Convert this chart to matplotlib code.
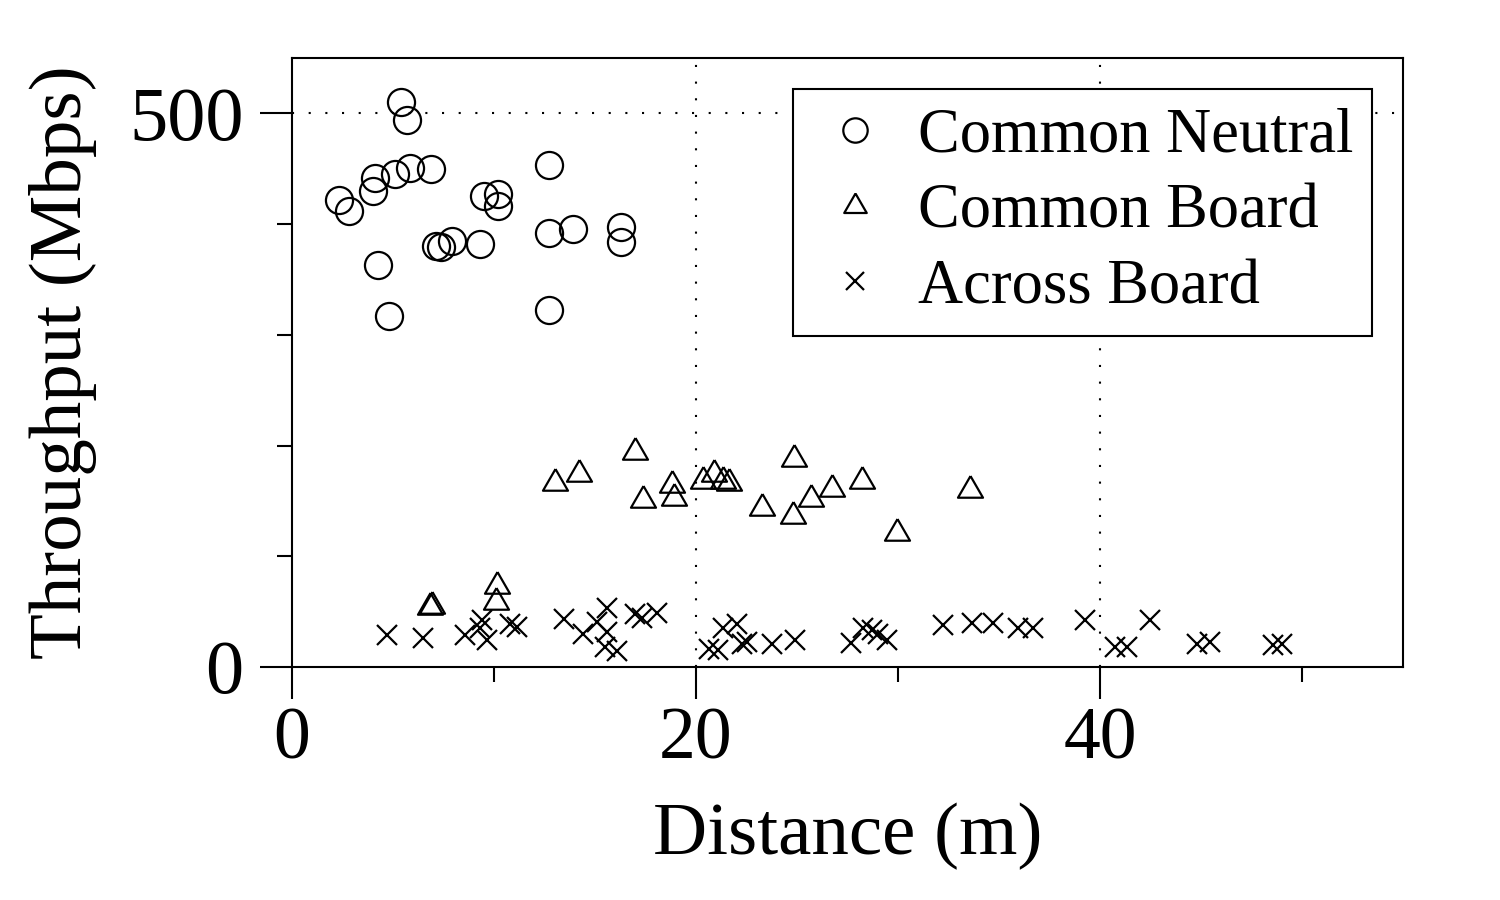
import matplotlib
matplotlib.use("Agg")
import matplotlib.pyplot as plt

plt.rcParams['font.family'] = ['Liberation Serif', 'DejaVu Serif']

# Common Neutral (circles)
cn_x = [5.38, 5.71, 5.84, 6.88, 5.08, 4.12, 4.00, 2.31, 2.81, 12.71, 10.21, 9.52,
        10.21, 12.72, 13.90, 16.29, 16.29, 7.90, 7.38, 7.13, 9.32, 4.27, 4.79, 12.72]
cn_y = [510, 494, 451, 450, 445, 442, 430, 422, 412, 453, 427, 425,
        416, 392, 396, 397, 384, 385, 379, 380, 382, 363, 317, 322]

# Common Board (triangles)
cb_x = [6.83, 6.95, 10.08, 10.13, 13.0, 14.21, 16.98, 17.38, 18.81, 18.9, 20.36,
        20.89, 21.35, 21.63, 23.28, 24.82, 24.85, 25.69, 26.72, 28.23, 29.93, 33.56]
cb_y = [54, 55, 59, 73, 166, 174, 194, 151, 164, 153, 168,
        174, 168, 166, 144, 136, 188, 152, 161, 168, 121, 160]

# Across Board (crosses)
ab_x = [4.69, 6.50, 8.56, 9.39, 9.31, 9.64, 10.79, 11.12, 13.47, 14.42, 15.58,
        15.08, 15.58, 15.50, 16.07, 16.98, 17.31, 18.05, 20.64, 21.11, 21.35, 22.01,
        22.26, 22.50, 23.75, 24.90, 27.67, 28.25, 28.70, 29.03, 29.44, 32.21, 33.65,
        34.72, 35.96, 36.70, 39.26, 40.74, 41.32, 42.48, 44.79, 45.45, 48.58, 48.99]
ab_y = [29, 26, 29, 42, 35, 24, 39, 36, 43, 30, 53,
        41, 32, 18, 14, 48, 44, 49, 16, 15, 35, 39,
        21, 23, 21, 24, 22, 35, 33, 30, 24, 38, 40,
        40, 35, 35, 42, 18, 18, 42, 21, 23, 20, 21]

labels = ["Common Neutral", "Common Board", "Across Board"]
x_major = [0, 20, 40]
x_minor = [10, 30, 50]
y_major = [0, 500]
y_minor = [100, 200, 300, 400]

fig = plt.figure(figsize=(15, 9), dpi=100)
ax = fig.add_axes([292/1500, 1-667/900, (1403-292)/1500, (667-58)/900])

tri = [(0, 1), (-0.866, -0.5), (0.866, -0.5), (0, 1)]

dot = (0, (1, 7))
ax.axhline(500, color='black', lw=1.5, linestyle=dot, zorder=1)
for gx in [20, 40]:
    ax.axvline(gx, color='black', lw=1.5, linestyle=dot, zorder=1)

ax.plot(cn_x, cn_y, linestyle='none', marker='o', markersize=19.5,
        mfc='none', mec='black', mew=1.6, label=labels[0], zorder=3)
ax.plot(cb_x, cb_y, linestyle='none', marker=tri, markersize=20.8,
        mfc='none', mec='black', mew=1.6, label=labels[1], zorder=3)
ax.plot(ab_x, ab_y, linestyle='none', marker='x', markersize=15,
        mec='black', mew=1.6, label=labels[2], zorder=3)

ax.set_xlim(0, 55)
ax.set_ylim(0, 550)
ax.set_xticks(x_major)
ax.set_xticks(x_minor, minor=True)
ax.set_yticks(y_major)
ax.set_yticks(y_minor, minor=True)
ax.set_xticklabels([str(v) for v in x_major])
ax.set_yticklabels([str(v) for v in y_major])

ax.tick_params(axis='x', which='major', direction='out', length=23, width=1.5,
               labelsize=53, pad=6, color='black')
ax.tick_params(axis='y', which='major', direction='out', length=23, width=1.5,
               labelsize=55, pad=12, color='black')
ax.tick_params(which='minor', direction='out', length=11, width=1.5, color='black')
for s in ax.spines.values():
    s.set_linewidth(1.5)
    s.set_color('black')

ax.set_xlabel("Distance (m)", fontsize=54, labelpad=20)
ax.set_ylabel("Throughput (Mbps)", fontsize=54, labelpad=23)

leg = ax.legend(loc='upper right', fontsize=45, frameon=True, fancybox=False,
                edgecolor='black', framealpha=1, markerscale=0.9,
                borderaxespad=0.5, handletextpad=0.3, labelspacing=0.28,
                borderpad=0.3, handlelength=1.4)
leg.get_frame().set_linewidth(1.5)

fig.savefig("out.png", dpi=100)
